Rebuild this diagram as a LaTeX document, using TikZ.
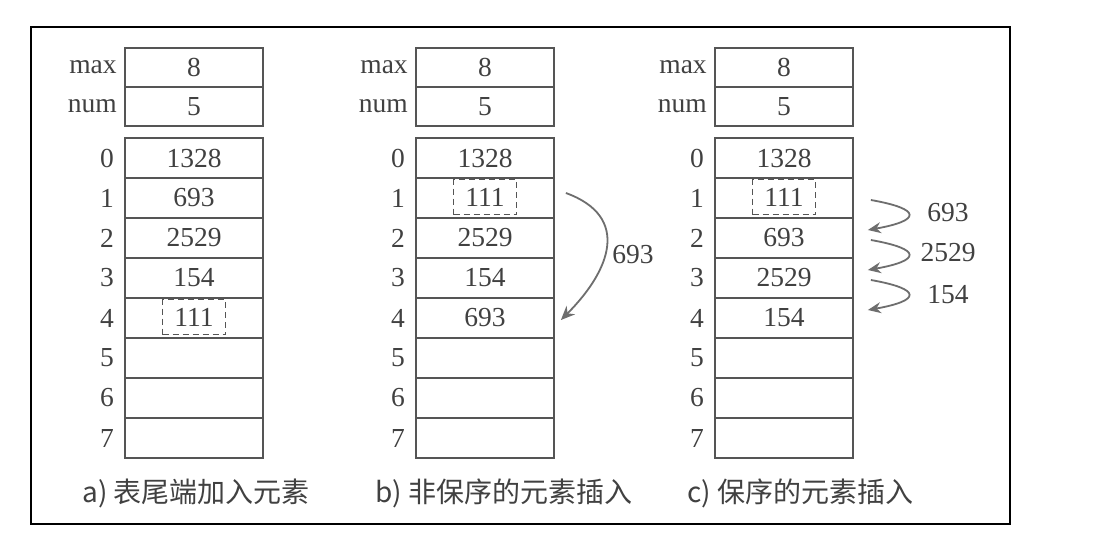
\documentclass[tikz,border=0pt]{standalone}
\usepackage{fontspec}
\setmainfont{Liberation Serif}
\newfontfamily\cjk{Noto Sans CJK SC}
\usetikzlibrary{arrows.meta}

\begin{document}
\begin{tikzpicture}[x=0.5pt,y=0.5pt,
  cell/.style={draw=ink,line width=0.9pt,minimum width=69pt,minimum height=20pt,inner sep=0pt,text=txt},
  topcell/.style={cell,minimum height=19.5pt},
  tag/.style={inner sep=0pt,text=txt,anchor=east},
  idx/.style={inner sep=0pt,text=txt},
  dashbox/.style={draw=ink,dash pattern=on 3pt off 2pt,line width=0.9pt,minimum width=31.5pt,minimum height=17.5pt,inner sep=0pt,text=txt},
  move/.style={draw=arrowgray,line width=0.9pt,-{Stealth[length=7pt,width=6pt]}},
  caption/.style={anchor=west,inner sep=0pt,text=txt,font=\cjk\fontsize{14}{16}\selectfont},
  font=\fontsize{13.75}{16}\selectfont]

\definecolor{ink}{RGB}{85,85,85}
\definecolor{txt}{RGB}{65,65,65}
\definecolor{arrowgray}{RGB}{110,110,110}

\fill[white] (0,0) rectangle (1105,-552);
\useasboundingbox (0,0) rectangle (1105,-552);
\draw[black,line width=0.8pt] (31,-27) rectangle (1010,-524);

\newcommand{\seqtable}[3]{
  \node[topcell] (#1max) at (#2,-67.5) {8};
  \node[topcell] (#1num) at (#2,-106.5) {5};
  \node[tag] (#1maxl) at ([xshift=-3.5pt]#1max.west) {max};
  \node[tag] (#1numl) at ([xshift=-3.5pt]#1num.west) {num};
  \foreach \v [count=\i from 0] in {#3}{
    \node[cell] (#1\i) at (#2,{-158-40*\i}) {\v};
    \node[idx] (#1i\i) at ({#2-87},{-158-40*\i}) {\i};
  }
}

\seqtable{a}{194}{1328,693,2529,154,{},{},{},{}}
\seqtable{b}{485}{1328,{},2529,154,693,{},{},{}}
\seqtable{c}{784}{1328,{},693,2529,154,{},{},{}}

\node[dashbox] (a4v) at ([yshift=0.5pt]a4.center) {111};
\node[dashbox] (b1v) at ([yshift=0.5pt]b1.center) {111};
\node[dashbox] (c1v) at ([yshift=0.5pt]c1.center) {111};

\draw[move] ([shift={(5.5pt,2.5pt)}]b1.east) to[out=-20,in=45,looseness=1.4] ([shift={(3pt,-1pt)}]b4.east);
\node[idx] (bl) at (633,-255) {693};

\foreach \i/\j/\v/\y in {1/2/693/213,2/3/2529/253,3/4/154/295}{
  \draw[move,-{Stealth[length=6.5pt,width=5.5pt]}] ([shift={(8.5pt,-1pt)}]c\i.east) to[out=-10,in=10,looseness=4.5] ([shift={(7pt,4pt)}]c\j.east);
  \node[idx] (cl\i) at (948,-\y) {\v};
}

\node[caption] (capa) at (82,-493) {a) 表尾端加入元素};
\node[caption] (capb) at (375,-493) {b) 非保序的元素插入};
\node[caption] (capc) at (687,-493) {c) 保序的元素插入};

\end{tikzpicture}
\end{document}
